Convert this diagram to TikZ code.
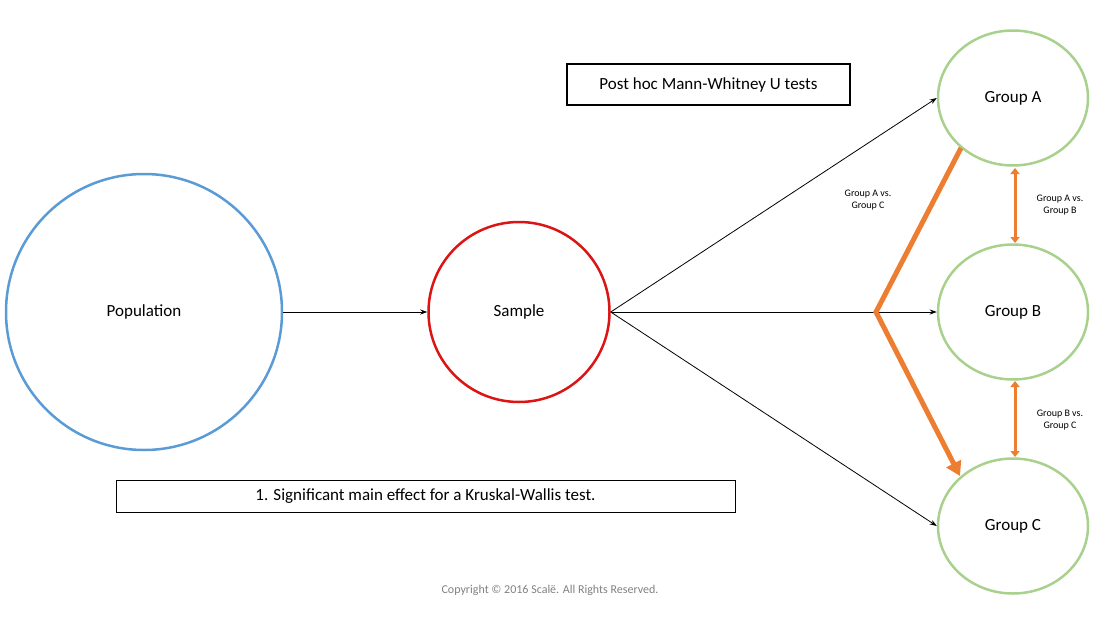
\documentclass[tikz,border=0pt]{standalone}
\usepackage{fontspec}
\setmainfont{Carlito}
\usetikzlibrary{arrows.meta,shapes.geometric}
\definecolor{pblue}{RGB}{91,155,213}
\definecolor{sred}{RGB}{220,20,20}
\definecolor{ggreen}{RGB}{169,209,142}
\definecolor{orng}{RGB}{237,125,49}
\begin{document}
\begin{tikzpicture}[x=1pt,y=-1pt,
  circ/.style={draw,ellipse,line width=2.5pt,inner sep=0pt,font=\fontsize{17}{20}\selectfont},
  grp/.style={circ,draw=ggreen,minimum width=150pt,minimum height=135pt},
  conn/.style={-{Stealth[length=7pt,width=5pt]},line width=0.8pt},
  dbl/.style={{Triangle[length=6pt,width=9pt]}-{Triangle[length=6pt,width=9pt]},draw=orng,fill=orng,line width=3pt},
  small/.style={font=\fontsize{10}{12}\selectfont,align=center}]
\useasboundingbox (0,0) rectangle (1100,618);
\node[circ,draw=pblue,minimum size=276pt,circle] (pop) at (144,312) {Population};
\node[circ,draw=sred,minimum width=181pt,minimum height=180pt] (samp) at (519,312) {Sample};
\node[grp] (A) at (1013,98) {Group A};
\node[grp] (B) at (1013,312) {Group B};
\node[grp] (C) at (1013,526) {Group C};
\draw[conn] (pop) -- (samp);
\draw[conn] (samp.east) -- (A.west);
\draw[conn] (samp.east) -- (B.west);
\draw[conn] (samp.east) -- (C.west);
\draw[dbl] (1015,168) -- (1015,243);
\draw[dbl] (1015,381) -- (1015,457);
\coordinate (v) at (876,312);
\coordinate (s) at (961,148);
\coordinate (t) at (960,476);
\draw[draw=orng,line width=5pt,-{Triangle[length=14pt,width=16pt]},line join=miter] (s) -- (v) -- (t);
\node[small] (lac) at (868,200) {Group A vs.\\Group C};
\node[small] (lab) at (1060,205) {Group A vs.\\Group B};
\node[small] (lbc) at (1060,420) {Group B vs.\\Group C};
\node[draw,line width=2pt,minimum width=283pt,minimum height=41pt,font=\fontsize{17}{20}\selectfont] (post) at (708.5,84.5) {Post hoc Mann-Whitney U tests};
\node[draw,line width=1pt,minimum width=619pt,minimum height=32pt,font=\fontsize{17}{20}\selectfont] (kw) at (425.5,496) {1. Significant main effect for a Kruskal-Wallis test.};
\node[text=gray,font=\fontsize{12}{14}\selectfont] (copy) at (550,590) {Copyright © 2016 Scalë. All Rights Reserved.};
\end{tikzpicture}
\end{document}
